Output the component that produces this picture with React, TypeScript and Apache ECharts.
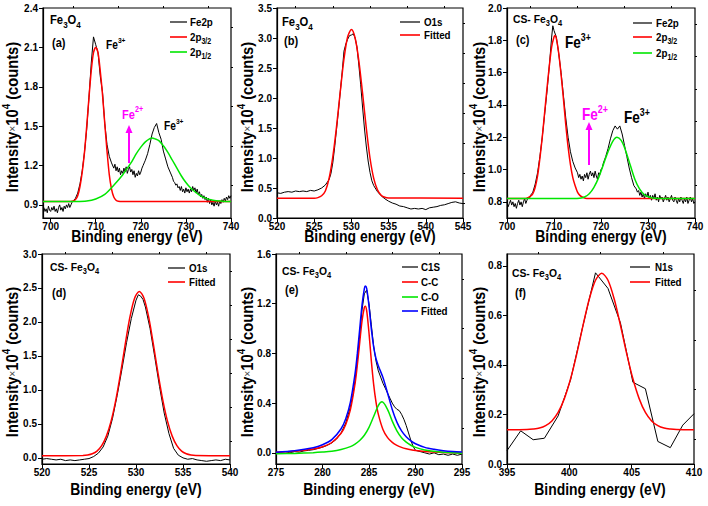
import React, { useEffect, useRef } from "react";
import * as echarts from "echarts";

const F = '"Liberation Sans", Arial, Helvetica, sans-serif';

// ---------- tick values ----------
const aXMajor = [700, 710, 720, 730, 740];
const aXMinor = [705, 715, 725, 735];
const aYMajor = [0.9, 1.2, 1.5, 1.8, 2.1, 2.4];
const aYMinor = [1.05, 1.35, 1.65, 1.95, 2.25];
const bXMajor = [520, 525, 530, 535, 540, 545];
const bXMinor = [522.5, 527.5, 532.5, 537.5, 542.5];
const bYMajor = [0, 0.5, 1, 1.5, 2, 2.5, 3, 3.5];
const bYMinor = [0.25, 0.75, 1.25, 1.75, 2.25, 2.75, 3.25];
const cXMajor = [700, 710, 720, 730, 740];
const cXMinor = [705, 715, 725, 735];
const cYMajor = [0.8, 1.0, 1.2, 1.4, 1.6, 1.8, 2.0];
const cYMinor = [0.9, 1.1, 1.3, 1.5, 1.7, 1.9];
const dXMajor = [520, 525, 530, 535, 540];
const dXMinor = [522.5, 527.5, 532.5, 537.5];
const dYMajor = [0, 0.5, 1, 1.5, 2, 2.5, 3];
const dYMinor = [0.25, 0.75, 1.25, 1.75, 2.25, 2.75];
const eXMajor = [275, 280, 285, 290, 295];
const eXMinor = [277.5, 282.5, 287.5, 292.5];
const eYMajor = [0, 0.4, 0.8, 1.2, 1.6];
const eYMinor = [0.2, 0.6, 1.0, 1.4];
const fXMajor = [395, 400, 405, 410];
const fXMinor = [397.5, 402.5, 407.5];
const fYMajor = [0, 0.2, 0.4, 0.6, 0.8];
const fYMinor = [0.1, 0.3, 0.5, 0.7];

// ---------- (a) Fe3O4 Fe2p ----------
const aFe2p = [
  [698.5, 0.88], [698.75, 0.85], [699, 0.87], [699.25, 0.84], [699.5, 0.89], [699.75, 0.86], [700, 0.85], [700.25, 0.88],
  [700.5, 0.86], [700.75, 0.89], [701, 0.85], [701.25, 0.87], [701.5, 0.84], [701.75, 0.88], [702, 0.9], [702.25, 0.86],
  [702.5, 0.88], [702.75, 0.85], [703, 0.89], [703.25, 0.87], [703.5, 0.9], [703.75, 0.88], [704, 0.91], [704.25, 0.88],
  [704.5, 0.9], [704.75, 0.92], [705, 0.93], [705.5, 0.95], [706, 0.99], [706.5, 1.06], [707, 1.16], [707.5, 1.3],
  [708, 1.48], [708.5, 1.72], [709, 1.98], [709.5, 2.18], [710, 2.12], [710.5, 2.06], [711, 1.88], [711.5, 1.76],
  [712, 1.52], [712.5, 1.36], [713, 1.27], [713.5, 1.22],
  [714, 1.18], [714.25, 1.21], [714.5, 1.16], [714.75, 1.19], [715, 1.15], [715.25, 1.18], [715.5, 1.13], [715.75, 1.16],
  [716, 1.14], [716.25, 1.18], [716.5, 1.15], [716.75, 1.19], [717, 1.14], [717.25, 1.17], [717.5, 1.19], [717.75, 1.15],
  [718, 1.17], [718.25, 1.13], [718.5, 1.16], [718.75, 1.11], [719, 1.14], [719.25, 1.12], [719.5, 1.16], [719.75, 1.13],
  [720, 1.15], [720.25, 1.18], [720.5, 1.2], [720.75, 1.22], [721, 1.24],
  [721.5, 1.29], [722, 1.36], [722.5, 1.44], [723, 1.49], [723.5, 1.52], [724, 1.45], [724.5, 1.4], [725, 1.31],
  [725.5, 1.25], [726, 1.19], [726.5, 1.15],
  [727, 1.11], [727.25, 1.08], [727.5, 1.07], [727.75, 1.05], [728, 1.06], [728.25, 1.03], [728.5, 1.04], [728.75, 1.01],
  [729, 1.04], [729.25, 1.0], [729.5, 1.02], [729.75, 0.99], [730, 1.03], [730.25, 1.0], [730.5, 1.02], [730.75, 0.99],
  [731, 1.02], [731.25, 1.0], [731.5, 1.04], [731.75, 1.01], [732, 1.03], [732.25, 0.99], [732.5, 1.02], [732.75, 0.98],
  [733, 1.0], [733.25, 0.96], [733.5, 0.98], [733.75, 0.95], [734, 0.97], [734.25, 0.94], [734.5, 0.96], [734.75, 0.92],
  [735, 0.95], [735.25, 0.91], [735.5, 0.94], [735.75, 0.9], [736, 0.92], [736.25, 0.89], [736.5, 0.93], [736.75, 0.9],
  [737, 0.92], [737.25, 0.89], [737.5, 0.93], [737.75, 0.91], [738, 0.94], [738.25, 0.92], [738.5, 0.95], [738.75, 0.93],
  [739, 0.96], [739.25, 0.94], [739.5, 0.97], [739.75, 0.95], [740, 0.97],
];
const a2p32 = [
  [698.3, 0.925], [704, 0.925], [705, 0.93], [705.5, 0.94], [706, 0.97], [706.5, 1.04], [707, 1.15], [707.5, 1.3],
  [708, 1.5], [708.5, 1.72], [709, 1.92], [709.5, 2.06], [710, 2.1], [710.5, 2.06], [711, 1.92], [711.5, 1.74],
  [712, 1.52], [712.5, 1.31], [713, 1.13], [713.5, 1.02], [714, 0.96], [714.5, 0.935], [715, 0.927], [716, 0.925],
  [740, 0.925],
];
const a2p12 = [
  [698.3, 0.925], [702, 0.925], [705, 0.926], [708, 0.93], [710, 0.945], [712, 0.98], [714, 1.05], [716, 1.13],
  [717, 1.18], [718, 1.23], [719, 1.29], [720, 1.34], [721, 1.38], [722, 1.405], [722.5, 1.41], [723, 1.405],
  [724, 1.39], [725, 1.35], [726, 1.3], [727, 1.24], [728, 1.18], [729, 1.12], [730, 1.07], [731, 1.03],
  [732, 1.0], [733, 0.975], [734, 0.955], [736, 0.935], [738, 0.928], [740, 0.925],
];

// ---------- (b) Fe3O4 O1s ----------
const bO1s = [
  [520, 0.42], [520.5, 0.41], [521, 0.43], [521.5, 0.44], [522, 0.43], [522.5, 0.45], [523, 0.44], [523.5, 0.45],
  [524, 0.44], [524.5, 0.46], [525, 0.45], [525.5, 0.47], [526, 0.5], [526.5, 0.55], [527, 0.64], [527.25, 0.74],
  [527.5, 0.92], [527.75, 1.18], [528, 1.48], [528.25, 1.78], [528.5, 2.1], [528.75, 2.42], [529, 2.78], [529.25, 2.9],
  [529.5, 2.98], [529.75, 3.04], [530, 3.05], [530.25, 3.07], [530.5, 3.0], [530.75, 2.85], [531, 2.55], [531.25, 2.22],
  [531.5, 1.85], [531.75, 1.5], [532, 1.2], [532.25, 0.95], [532.5, 0.76], [532.75, 0.62], [533, 0.54], [533.5, 0.44],
  [534, 0.37], [534.5, 0.32], [535, 0.28], [535.5, 0.25], [536, 0.23], [536.5, 0.2], [537, 0.19], [537.5, 0.17],
  [538, 0.15], [538.5, 0.16], [539, 0.15], [539.5, 0.16], [540, 0.14], [540.5, 0.17], [541, 0.18], [541.5, 0.19],
  [542, 0.21], [542.5, 0.22], [543, 0.24], [543.5, 0.26], [544, 0.27], [544.5, 0.25], [545, 0.24],
];
const bFit = [
  [520, 0.33], [525, 0.33], [525.5, 0.34], [526, 0.37], [526.5, 0.45], [527, 0.66], [527.5, 1.02], [528, 1.52],
  [528.5, 2.1], [529, 2.65], [529.5, 3.02], [530, 3.14], [530.5, 3.0], [531, 2.62], [531.5, 2.08], [532, 1.5],
  [532.5, 1.0], [533, 0.66], [533.5, 0.47], [534, 0.38], [534.5, 0.345], [535, 0.335], [545, 0.33],
];

// ---------- (c) CS-Fe3O4 Fe2p ----------
const cFe2p = [
  [700, 0.8], [700.25, 0.77], [700.5, 0.79], [700.75, 0.81], [701, 0.78], [701.25, 0.8], [701.5, 0.77], [701.75, 0.79],
  [702, 0.76], [702.25, 0.79], [702.5, 0.81], [702.75, 0.78], [703, 0.8], [703.25, 0.77], [703.5, 0.8], [703.75, 0.82],
  [704, 0.79], [704.25, 0.81], [704.5, 0.83], [704.75, 0.82], [705, 0.84], [705.25, 0.85], [705.5, 0.86],
  [706, 0.91], [706.5, 0.98], [707, 1.08], [707.5, 1.2], [708, 1.34], [708.5, 1.48], [709, 1.64], [709.5, 1.82],
  [709.75, 1.89], [710, 1.86], [710.5, 1.82], [711, 1.72], [711.5, 1.6], [712, 1.46], [712.5, 1.32], [713, 1.2],
  [713.5, 1.11], [714, 1.05], [714.5, 1.01],
  [715, 0.98], [715.25, 0.95], [715.5, 0.97], [715.75, 0.94], [716, 0.96], [716.25, 0.93], [716.5, 0.97], [716.75, 0.95],
  [717, 0.98], [717.25, 0.94], [717.5, 0.97], [717.75, 0.99], [718, 0.96], [718.25, 0.98], [718.5, 0.95], [718.75, 0.99],
  [719, 0.96], [719.25, 0.94], [719.5, 0.98], [719.75, 0.97], [720, 1.0], [720.25, 1.01], [720.5, 1.04], [720.75, 1.06],
  [721, 1.08],
  [721.5, 1.13], [722, 1.19], [722.5, 1.24], [723, 1.27], [723.5, 1.25], [724, 1.27], [724.5, 1.22], [725, 1.15],
  [725.5, 1.08], [726, 1.01], [726.5, 0.95], [727, 0.9],
  [727.5, 0.88], [727.75, 0.86], [728, 0.87], [728.25, 0.84], [728.5, 0.86], [728.75, 0.83], [729, 0.85], [729.25, 0.82],
  [729.5, 0.85], [729.75, 0.83], [730, 0.86], [730.25, 0.82], [730.5, 0.84], [730.75, 0.81], [731, 0.84], [731.25, 0.82],
  [731.5, 0.85], [731.75, 0.81], [732, 0.83], [732.25, 0.8], [732.5, 0.84], [732.75, 0.82], [733, 0.83], [733.25, 0.8],
  [733.5, 0.82], [733.75, 0.84], [734, 0.81], [734.25, 0.83], [734.5, 0.8], [734.75, 0.82], [735, 0.84], [735.25, 0.81],
  [735.5, 0.8], [735.75, 0.83], [736, 0.81], [736.25, 0.79], [736.5, 0.82], [736.75, 0.8], [737, 0.83], [737.25, 0.81],
  [737.5, 0.79], [737.75, 0.82], [738, 0.8], [738.25, 0.83], [738.5, 0.79], [738.75, 0.81], [739, 0.83], [739.25, 0.8],
  [739.5, 0.82], [739.75, 0.79], [740, 0.8],
];
const c2p32 = [
  [700, 0.82], [704, 0.82], [705, 0.835], [705.5, 0.85], [706, 0.89], [706.5, 0.96], [707, 1.07], [707.5, 1.2],
  [708, 1.35], [708.5, 1.5], [709, 1.64], [709.5, 1.76], [710, 1.82], [710.2, 1.83], [710.5, 1.81], [711, 1.72],
  [711.5, 1.59], [712, 1.44], [712.5, 1.28], [713, 1.14], [713.5, 1.03], [714, 0.95], [714.5, 0.9], [715, 0.86],
  [715.5, 0.84], [716, 0.83], [717, 0.82], [740, 0.82],
];
const c2p12 = [
  [700, 0.82], [714, 0.82], [715.5, 0.822], [716.5, 0.83], [717.5, 0.85], [718.5, 0.89], [719.5, 0.95], [720.5, 1.03],
  [721.5, 1.11], [722.5, 1.175], [723.4, 1.2], [724.3, 1.18], [725.2, 1.12], [726.2, 1.03], [727.2, 0.94], [728.2, 0.88],
  [729.2, 0.845], [730.2, 0.83], [731.5, 0.822], [740, 0.82],
];

// ---------- (d) CS-Fe3O4 O1s ----------
const dO1s = [
  [520, -0.02], [520.5, -0.01], [521, -0.02], [521.5, -0.03], [522, -0.02], [522.5, -0.04], [523, -0.03], [523.5, -0.04],
  [524, -0.03], [524.5, -0.02], [525, -0.01], [525.5, 0.02], [526, 0.07], [526.5, 0.16], [527, 0.32], [527.5, 0.58],
  [528, 0.92], [528.5, 1.3], [529, 1.7], [529.5, 2.05], [530, 2.32], [530.25, 2.4], [530.5, 2.38], [530.75, 2.33],
  [531, 2.22], [531.5, 1.9], [532, 1.48], [532.5, 1.05], [533, 0.66], [533.5, 0.36], [534, 0.14], [534.5, 0.04],
  [535, 0.0], [535.5, -0.02], [536, -0.01], [536.5, -0.03], [537, -0.04], [537.5, -0.05], [538, -0.04], [538.5, -0.03],
  [539, -0.04], [539.5, -0.02], [540, -0.03],
];
const dFit = [
  [520, 0.03], [524.35, 0.035], [524.85, 0.042], [525.35, 0.06], [525.85, 0.1], [526.35, 0.18], [526.85, 0.32],
  [527.35, 0.54], [527.85, 0.85], [528.35, 1.24], [528.85, 1.67], [529.35, 2.07], [529.85, 2.35], [530.35, 2.45],
  [530.85, 2.35], [531.35, 2.07], [531.85, 1.67], [532.35, 1.24], [532.85, 0.85], [533.35, 0.54], [533.85, 0.32],
  [534.35, 0.18], [534.85, 0.1], [535.35, 0.06], [535.85, 0.042], [536.35, 0.035], [540, 0.03],
];

// ---------- (e) CS-Fe3O4 C1s ----------
const eC1s = [
  [275, 0.0], [275.5, 0.005], [276, 0.01], [276.5, 0.0], [277, 0.01], [277.5, 0.005], [278, 0.015], [278.5, 0.02],
  [279, 0.025], [279.5, 0.035], [280, 0.045], [280.5, 0.06], [281, 0.08], [281.5, 0.11], [282, 0.16], [282.5, 0.24],
  [283, 0.37], [283.25, 0.46], [283.5, 0.58], [283.75, 0.75], [284, 0.95], [284.25, 1.15], [284.5, 1.28], [284.75, 1.31],
  [285, 1.2], [285.25, 1.03], [285.5, 0.86], [285.75, 0.74], [286, 0.66], [286.25, 0.61], [286.5, 0.56], [286.75, 0.52],
  [287, 0.48], [287.25, 0.44], [287.5, 0.4], [287.75, 0.37], [288, 0.35], [288.25, 0.34], [288.5, 0.31], [288.75, 0.27],
  [289, 0.22], [289.25, 0.16], [289.5, 0.1], [289.75, 0.05], [290, 0.02], [290.5, 0.01], [291, 0.0], [291.5, -0.01],
  [292, 0.0], [292.5, -0.015], [293, -0.01], [293.5, -0.02], [294, -0.01], [294.5, -0.02], [295, -0.01],
];
const eCC = [
  [275, 0.004], [277, 0.012], [279, 0.03], [280, 0.049], [281, 0.083], [282, 0.157], [282.5, 0.228], [283, 0.348],
  [283.5, 0.557], [283.75, 0.709], [284, 0.887], [284.25, 1.061], [284.5, 1.17], [284.6, 1.18], [284.75, 1.144],
  [285, 0.965], [285.25, 0.741], [285.5, 0.551], [285.75, 0.41], [286, 0.311], [286.5, 0.188], [287, 0.122],
  [287.5, 0.084], [288, 0.06], [288.5, 0.044], [289, 0.033], [289.5, 0.025], [290, 0.019], [291, 0.011], [292, 0.006],
  [293, 0.002], [294, 0.0], [295, -0.001],
];
const eCO = [
  [275, -0.008], [277, -0.005], [279, 0.001], [280, 0.006], [281, 0.013], [282, 0.027], [283, 0.05], [283.5, 0.07],
  [284, 0.099], [284.5, 0.141], [285, 0.205], [285.5, 0.292], [286, 0.38], [286.4, 0.41], [287, 0.348], [287.5, 0.255],
  [288, 0.177], [288.5, 0.122], [289, 0.086], [289.5, 0.061], [290, 0.044], [291, 0.023], [292, 0.012], [293, 0.005],
  [294, 0.0], [295, -0.003],
];
const eFit = [
  [275, 0.005], [277, 0.017], [279, 0.041], [280, 0.065], [281, 0.106], [282, 0.194], [282.5, 0.275], [283, 0.408],
  [283.5, 0.637], [283.75, 0.802], [284, 0.996], [284.25, 1.189], [284.5, 1.321], [284.6, 1.342], [284.75, 1.324],
  [285, 1.18], [285.25, 0.997], [285.5, 0.853], [285.75, 0.759], [286, 0.701], [286.5, 0.606], [287, 0.48],
  [287.5, 0.349], [288, 0.247], [288.5, 0.176], [289, 0.129], [289.5, 0.096], [290, 0.073], [291, 0.044], [292, 0.028],
  [293, 0.017], [294, 0.01], [295, 0.006],
];

// ---------- (f) CS-Fe3O4 N1s ----------
const fN1s = [
  [395, 0.054], [396.1, 0.134], [397.1, 0.098], [398, 0.104], [399.1, 0.194], [400.1, 0.34], [401.1, 0.56],
  [402.1, 0.772], [403.1, 0.709], [404.1, 0.57], [405.1, 0.33], [406.1, 0.304], [407.1, 0.091], [408.1, 0.066],
  [409.1, 0.157], [410, 0.203],
];
const fFit = [
  [395, 0.138], [396.6, 0.139], [397.1, 0.141], [397.6, 0.145], [398.1, 0.155], [398.6, 0.174], [399.1, 0.208],
  [399.6, 0.264], [400.1, 0.344], [400.6, 0.446], [401.1, 0.56], [401.6, 0.666], [402.1, 0.742], [402.6, 0.77],
  [403.1, 0.742], [403.6, 0.666], [404.1, 0.56], [404.6, 0.446], [405.1, 0.344], [405.6, 0.264], [406.1, 0.208],
  [406.6, 0.174], [407.1, 0.155], [407.6, 0.145], [408.1, 0.141], [408.6, 0.139], [410, 0.138],
];

const RED = "#ff0000";
const GREEN = "#00e600";
const BLUE = "#0000ff";
const MAGENTA = "#ff00ff";
const SX = 0.85;

function rich(size: number, color = "#000") {
  const base = { fontWeight: "bold", fontFamily: F, fill: color };
  return {
    n: { ...base, fontSize: size, lineHeight: size + 6, verticalAlign: "middle" },
    sub: { ...base, fontSize: size * 0.72, lineHeight: size * 0.72, verticalAlign: "bottom" },
    sup: { ...base, fontSize: size * 0.65, lineHeight: size * 0.65, verticalAlign: "top" },
    x: { fontFamily: F, fontWeight: "normal", fill: "#444", fontSize: size * 0.7, lineHeight: size + 6, verticalAlign: "middle" },
  };
}

function T(x: number, y: number, text: string, size: number, opts: any = {}) {
  return {
    type: "text",
    x,
    y,
    z: 100,
    scaleX: opts.sx ?? SX,
    rotation: opts.rot ?? 0,
    style: {
      text,
      align: opts.align ?? "left",
      verticalAlign: "middle",
      rich: rich(size, opts.color),
      fill: opts.color ?? "#000",
      fontSize: size,
      fontWeight: "bold",
      fontFamily: F,
    },
  };
}

function L(x1: number, y1: number, x2: number, y2: number, color: string, w = 1.5) {
  return { type: "line", z: 100, shape: { x1, y1, x2, y2 }, style: { stroke: color, lineWidth: w } };
}

function legend(x1: number, x2: number, tx: number, rows: [number, string, string][]) {
  const out: any[] = [];
  rows.forEach(([y, color, text]) => {
    out.push(L(x1, y, x2, y, color, color === "#000" ? 1.2 : 1.6));
    out.push(T(tx, y, text, 11.5));
  });
  return out;
}

function arrow(x: number, yFrom: number, yTo: number) {
  return [
    L(x, yFrom, x, yTo + 6, MAGENTA, 2),
    { type: "polygon", z: 100, shape: { points: [[x - 3.5, yTo + 8], [x + 3.5, yTo + 8], [x, yTo]] }, style: { fill: MAGENTA } },
  ];
}

const grids = [
  { left: 43, top: 8, width: 188, height: 210 },
  { left: 277, top: 8, width: 186, height: 210 },
  { left: 507, top: 8, width: 188, height: 210 },
  { left: 42, top: 254, width: 188, height: 210 },
  { left: 276, top: 254, width: 186, height: 210 },
  { left: 507, top: 254, width: 187, height: 210 },
];

const panels = [
  { x: [698.3, 740], y: [0.8, 2.4], xt: [aXMajor, aXMinor], yt: [aYMajor, aYMinor] },
  { x: [520, 545], y: [0, 3.5], xt: [bXMajor, bXMinor], yt: [bYMajor, bYMinor] },
  { x: [700, 740], y: [0.7, 2.0], xt: [cXMajor, cXMinor], yt: [cYMajor, cYMinor] },
  { x: [520, 540], y: [-0.09, 3.0], xt: [dXMajor, dXMinor], yt: [dYMajor, dYMinor] },
  { x: [275, 295], y: [-0.09, 1.6], xt: [eXMajor, eXMinor], yt: [eYMajor, eYMinor] },
  { x: [395, 410], y: [0, 0.848], xt: [fXMajor, fXMinor], yt: [fYMajor, fYMinor] },
];

function mkAxis(gridIndex: number, range: number[], major: number[], minor: number[], isX: boolean) {
  const common = { type: "value", gridIndex, min: range[0], max: range[1], splitLine: { show: false } };
  const main = {
    ...common,
    axisLine: { show: true, onZero: false, lineStyle: { color: "#000", width: 1.2 } },
    axisTick: { show: true, inside: false, length: 4, customValues: major, lineStyle: { color: "#000", width: 1 } },
    axisLabel: {
      show: true,
      customValues: major,
      color: "#000",
      fontSize: 10,
      fontWeight: "bold",
      fontFamily: F,
      margin: isX ? 3 : 5,
      formatter: (v: number) => (isX ? String(Math.round(v)) : v.toFixed(1)),
    },
  };
  const min = {
    ...common,
    axisLine: { show: false, onZero: false },
    axisTick: { show: true, inside: false, length: 2, customValues: minor, lineStyle: { color: "#000", width: 1 } },
    axisLabel: { show: false },
  };
  return [main, min];
}

const xAxes: any[] = [];
const yAxes: any[] = [];
panels.forEach((p, i) => {
  xAxes.push(...mkAxis(i, p.x, p.xt[0], p.xt[1], true));
  yAxes.push(...mkAxis(i, p.y, p.yt[0], p.yt[1], false));
});

function S(panel: number, data: number[][], color: string, width: number, smooth = false) {
  return {
    type: "line",
    xAxisIndex: panel * 2,
    yAxisIndex: panel * 2,
    data,
    showSymbol: false,
    symbol: "none",
    smooth: smooth ? 0.3 : false,
    lineStyle: { color, width },
    itemStyle: { color },
    silent: true,
  };
}

const series = [
  S(0, aFe2p, "#000", 1),
  S(0, a2p32, RED, 1.5, true),
  S(0, a2p12, GREEN, 1.5, true),
  S(1, bO1s, "#000", 1),
  S(1, bFit, RED, 1.5, true),
  S(2, cFe2p, "#000", 1),
  S(2, c2p32, RED, 1.5, true),
  S(2, c2p12, GREEN, 1.5, true),
  S(3, dO1s, "#000", 1),
  S(3, dFit, RED, 1.5, true),
  S(4, eC1s, "#000", 1),
  S(4, eCC, RED, 1.5, true),
  S(4, eCO, GREEN, 1.5, true),
  S(4, eFit, BLUE, 1.5, true),
  S(5, fN1s, "#000", 1),
  S(5, fFit, RED, 1.5, true),
];

const FE3O4 = "{n|Fe}{sub|3}{n|O}{sub|4}";
const CSFE = "{n|CS- Fe}{sub|3}{n|O}{sub|4}";
const YT = "{n|Intensity}{x|×}{n|10}{sup|4}{n| (counts)}";
const FE3 = "{n|Fe}{sup|3+}";
const FE2 = "{n|Fe}{sup|2+}";
const XT = "{n|Binding energy (eV)}";
const ys = { rot: Math.PI / 2, align: "center", sx: 0.92 };
const xs = { align: "center", sx: 0.87 };

const graphics: any[] = [
  // y titles
  T(12, 117, YT, 16, ys),
  T(247, 117, YT, 16, ys),
  T(479, 117, YT, 16, ys),
  T(12, 362, YT, 16, ys),
  T(247, 362, YT, 16, ys),
  T(479, 362, YT, 16, ys),
  // x titles
  T(137, 236, XT, 16, xs),
  T(370, 236, XT, 16, xs),
  T(601, 236, XT, 16, xs),
  T(136, 489, XT, 16, xs),
  T(369, 489, XT, 16, xs),
  T(600, 489, XT, 16, xs),
  // sample labels
  T(50, 20, FE3O4, 12.5, { sx: 0.9 }),
  T(52, 43, "{n|(a)}", 13),
  T(282, 22, FE3O4, 12.5, { sx: 0.9 }),
  T(284, 41, "{n|(b)}", 13),
  T(513, 19, CSFE, 11.5, { sx: 0.9 }),
  T(516, 40, "{n|(c)}", 13),
  T(50, 267, CSFE, 11.5, { sx: 0.9 }),
  T(52, 293, "{n|(d)}", 13),
  T(282, 271, CSFE, 11.5, { sx: 0.9 }),
  T(285, 290, "{n|(e)}", 13),
  T(512, 273, CSFE, 11.5, { sx: 0.9 }),
  T(515, 293, "{n|(f)}", 13),
  // annotations
  T(106, 45, FE3, 12),
  T(164, 126, FE3, 12),
  T(122, 115, FE2, 13, { color: MAGENTA }),
  ...arrow(129, 163, 125),
  T(565, 43, FE3, 16),
  T(624, 118, FE3, 16),
  T(582, 115, FE2, 16, { color: MAGENTA }),
  ...arrow(589, 165, 122),
  // legends
  ...legend(170, 187, 190, [[22, "#000", "{n|Fe2p}"], [37, RED, "{n|2p}{sub|3/2}"], [52, GREEN, "{n|2p}{sub|1/2}"]]),
  ...legend(400, 420, 424, [[22, "#000", "{n|O1s}"], [35, RED, "{n|Fitted}"]]),
  ...legend(633, 652, 656, [[23, "#000", "{n|Fe2p}"], [37, RED, "{n|2p}{sub|3/2}"], [53, GREEN, "{n|2p}{sub|1/2}"]]),
  ...legend(168, 185, 189, [[268, "#000", "{n|O1s}"], [282, RED, "{n|Fitted}"]]),
  ...legend(402, 418, 421, [[267, "#000", "{n|C1S}"], [282, RED, "{n|C-C}"], [297, GREEN, "{n|C-O}"], [311, BLUE, "{n|Fitted}"]]),
  ...legend(630, 650, 655, [[267, "#000", "{n|N1s}"], [282, RED, "{n|Fitted}"]]),
];

export default function App() {
  const ref = useRef<HTMLDivElement>(null);
  useEffect(() => {
    document.body.style.margin = "0";
    const chart = echarts.init(ref.current!, null, { renderer: "svg" });
    chart.setOption({
      animation: false,
      backgroundColor: "#fff",
      grid: grids.map((g) => ({ ...g, show: true, borderColor: "#000", borderWidth: 1.2, backgroundColor: "transparent", containLabel: false })),
      xAxis: xAxes,
      yAxis: yAxes,
      series,
      graphic: { elements: graphics },
    });
    return () => chart.dispose();
  }, []);
  return <div ref={ref} style={{ width: 708, height: 506 }} />;
}
